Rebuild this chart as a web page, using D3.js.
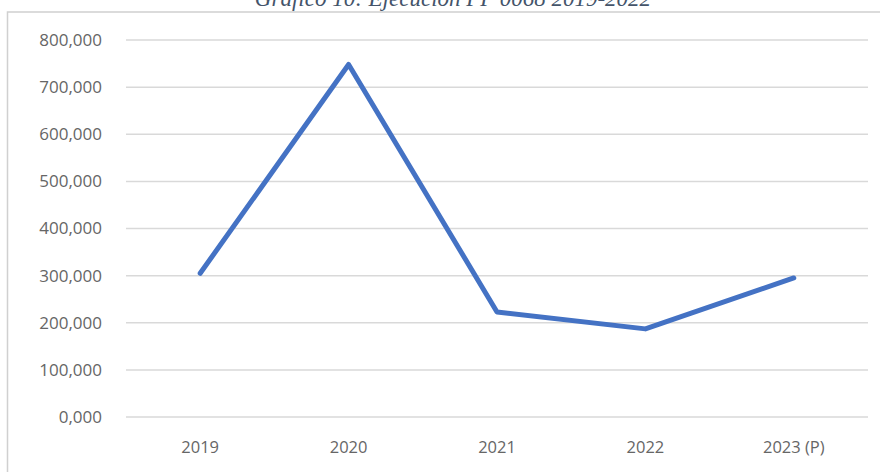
<!DOCTYPE html>
<html>
<head>
<meta charset="utf-8">
<script src="https://cdn.jsdelivr.net/npm/d3@7"></script>
<style>
    body { margin: 0; background: #fff; }
    svg { display: block; }
</style>
</head>
<body>
<svg id="chart" width="880" height="472"></svg>
<script>

var years = ["2019", "2020", "2021", "2022", "2023 (P)"];
var values = [305000, 748000, 223000, 187000, 295000];
var yTicks = [0, 100000, 200000, 300000, 400000, 500000, 600000, 700000, 800000];

var chart = {

    margin: {top: 40, right: 12, bottom: 55, left: 126},

    fmt: function (v) {
        // 300000 -> "300,000"
        var s = String(v / 1000);
        return s + ",000";
    },

    draw: function () {
        var svg = d3.select("#chart");
        var W = 880, H = 472;
        var m = chart.margin;

        // title, cut at the top like the source
        svg.append("text")
            .attr("x", 453)
            .attr("y", 6)
            .attr("text-anchor", "middle")
            .attr("font-family", "Liberation Serif, serif")
            .attr("font-style", "italic")
            .attr("font-size", 23)
            .attr("fill", "#44546a")
            .text("Gráfico 10: Ejecución PP 0068 2019-2022");

        // chart area frame
        svg.append("rect")
            .attr("x", 7.5)
            .attr("y", 12)
            .attr("width", W + 10)
            .attr("height", H)
            .attr("fill", "#fff")
            .attr("stroke", "#d0d0d0")
            .attr("stroke-width", 1.5);

        var x = d3.scalePoint()
            .domain(years)
            .range([m.left, W - m.right])
            .padding(0.5);

        var y = d3.scaleLinear()
            .domain([0, 800000])
            .range([417, 40]);

        // grid
        svg.append("g")
            .selectAll("line")
            .data(yTicks)
            .enter().append("line")
            .attr("x1", m.left)
            .attr("x2", W - m.right)
            .attr("y1", function (d) { return y(d); })
            .attr("y2", function (d) { return y(d); })
            .attr("stroke", "#d9d9d9")
            .attr("stroke-width", 1.5);

        // y labels
        svg.append("g")
            .selectAll("text")
            .data(yTicks)
            .enter().append("text")
            .attr("x", 102)
            .attr("y", function (d) { return y(d); })
            .attr("dy", "0.35em")
            .attr("text-anchor", "end")
            .attr("font-family", "Open Sans, sans-serif")
            .attr("font-size", 17)
            .attr("fill", "#666")
            .text(chart.fmt);

        // x labels
        svg.append("g")
            .selectAll("text")
            .data(years)
            .enter().append("text")
            .attr("x", function (d) { return x(d); })
            .attr("y", 447)
            .attr("dy", "0.35em")
            .attr("text-anchor", "middle")
            .attr("font-family", "Open Sans, sans-serif")
            .attr("font-size", 16.5)
            .attr("fill", "#666")
            .text(function (d) { return d; });

        var line = d3.line()
            .x(function (d, i) { return x(years[i]); })
            .y(function (d) { return y(d); });

        svg.append("path")
            .datum(values)
            .attr("d", line)
            .attr("fill", "none")
            .attr("stroke", "#4472c4")
            .attr("stroke-width", 5)
            .attr("stroke-linejoin", "round")
            .attr("stroke-linecap", "round");
    }
};

chart.draw();
</script>
</body>
</html>
